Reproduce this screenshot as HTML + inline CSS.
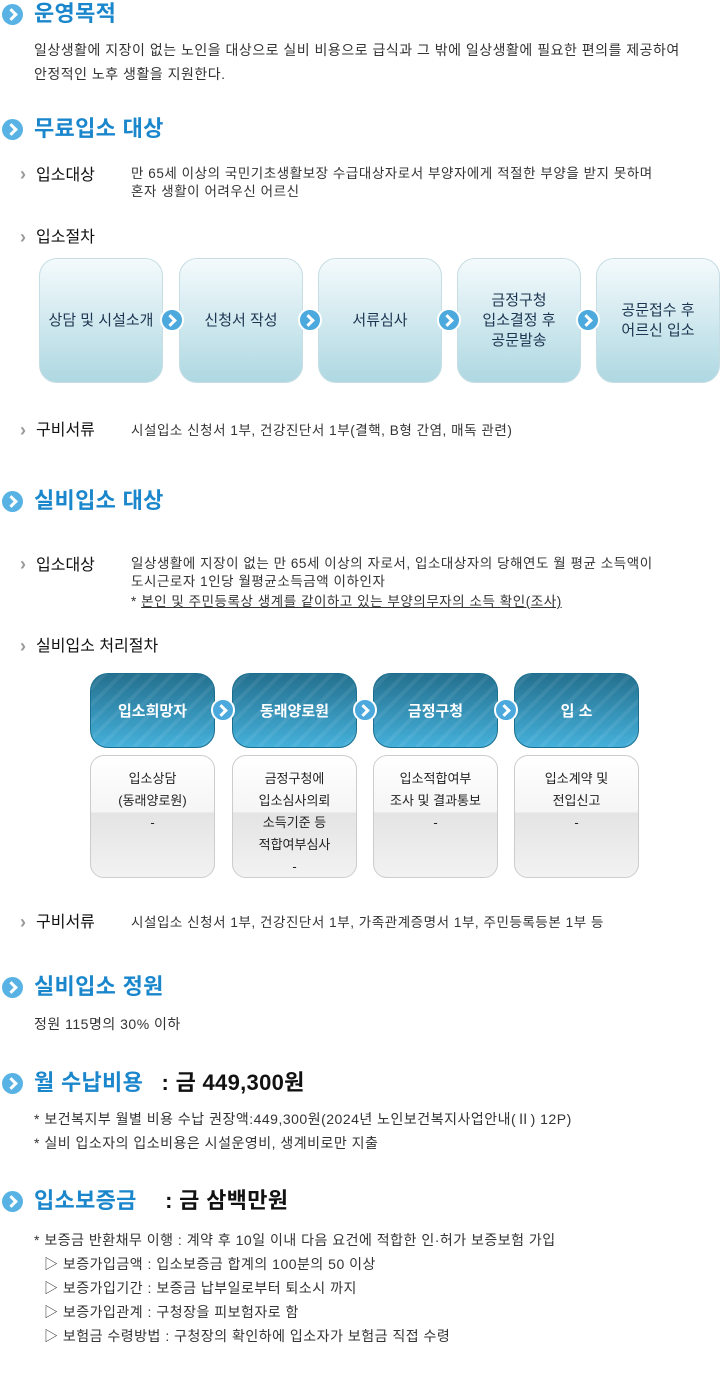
<!DOCTYPE html>
<html><head><meta charset="utf-8"><style>
*{margin:0;padding:0;box-sizing:border-box}
body{width:720px;height:1380px;background:#fff;font-family:"Liberation Sans","Noto Sans CJK KR",sans-serif;color:#333;position:relative;overflow:hidden}
.a{position:absolute;white-space:nowrap}
.h{font-size:22px;font-weight:bold;color:#1a86cc;line-height:28px;letter-spacing:0.3px}
.ic{position:absolute;width:21px;height:21px;border-radius:50%;background:#58b3e4}
.ic:after,.ar:after{content:"";position:absolute;left:5px;top:6px;width:6px;height:6px;border-right:3px solid #fff;border-top:3px solid #fff;transform:rotate(45deg)}
.ar{position:absolute;width:24px;height:24px;border-radius:50%;background:#4ba9dd;border:2px solid #fff;z-index:2}
.ar:after{left:4px;top:6px}
.t{font-size:14px;line-height:24px;color:#333;letter-spacing:0.5px}
.s{font-size:13.5px;line-height:18px;color:#333;letter-spacing:0.55px}
.lb{font-size:16px;color:#111;line-height:20px}
.gt{position:absolute;color:#999;font-size:18px;font-weight:bold}
.bx{position:absolute;top:258px;width:124px;height:125px;border-radius:18px;border:1px solid #c5dde3;background:linear-gradient(#f4fafc,#aed8e2);display:flex;align-items:center;justify-content:center;text-align:center;font-size:15px;color:#1c3550;line-height:20px}
.bb{position:absolute;top:673px;width:125px;height:75px;border-radius:18px;border:1px solid #1a6f8f;background:repeating-linear-gradient(135deg,rgba(255,255,255,0) 0 8px,rgba(255,255,255,.07) 8px 12px),linear-gradient(#24708f,#45b0da);display:flex;align-items:center;justify-content:center;color:#fff;font-size:15px;font-weight:bold}
.gb{position:absolute;top:755px;width:125px;height:123px;border-radius:14px;border:1px solid #ccc;background:linear-gradient(#fff 0,#f5f5f5 56px,#e4e4e4 57px,#f2f2f2 100%);text-align:center;font-size:13px;line-height:22px;color:#222;padding-top:12px}
</style></head><body>

<div class="ic" style="left:2px;top:4px"></div>
<div class="a h" style="left:34px;top:0">운영목적</div>
<div class="a t" style="left:34px;top:38px">일상생활에 지장이 없는 노인을 대상으로 실비 비용으로 급식과 그 밖에 일상생활에 필요한 편의를 제공하여</div>
<div class="a t" style="left:34px;top:62px">안정적인 노후 생활을 지원한다.</div>

<div class="ic" style="left:2px;top:119px"></div>
<div class="a h" style="left:34px;top:115px">무료입소 대상</div>

<div class="gt a" style="left:20px;top:164px">›</div>
<div class="a lb" style="left:36px;top:166px">입소대상</div>
<div class="a s" style="left:131px;top:165px">만 65세 이상의 국민기초생활보장 수급대상자로서 부양자에게 적절한 부양을 받지 못하며<br>혼자 생활이 어려우신 어르신</div>

<div class="gt a" style="left:20px;top:227px">›</div>
<div class="a lb" style="left:36px;top:228px">입소절차</div>

<div class="bx" style="left:39px">상담 및 시설소개</div>
<div class="bx" style="left:179px">신청서 작성</div>
<div class="bx" style="left:318px">서류심사</div>
<div class="bx" style="left:457px">금정구청<br>입소결정 후<br>공문발송</div>
<div class="bx" style="left:596px">공문접수 후<br>어르신 입소</div>
<div class="ar" style="left:160px;top:308px"></div>
<div class="ar" style="left:298px;top:308px"></div>
<div class="ar" style="left:437px;top:308px"></div>
<div class="ar" style="left:576px;top:308px"></div>

<div class="gt a" style="left:20px;top:420px">›</div>
<div class="a lb" style="left:36px;top:421px">구비서류</div>
<div class="a s" style="left:131px;top:422px">시설입소 신청서 1부, 건강진단서 1부(결핵, B형 간염, 매독 관련)</div>

<div class="ic" style="left:2px;top:491px"></div>
<div class="a h" style="left:34px;top:487px">실비입소 대상</div>

<div class="gt a" style="left:20px;top:554px">›</div>
<div class="a lb" style="left:36px;top:556px">입소대상</div>
<div class="a s" style="left:131px;top:555px">일상생활에 지장이 없는 만 65세 이상의 자로서, 입소대상자의 당해연도 월 평균 소득액이<br>도시근로자 1인당 월평균소득금액 이하인자</div>
<div class="a s" style="left:131px;top:593px">* <span style="text-decoration:underline">본인 및 주민등록상 생계를 같이하고 있는 부양의무자의 소득 확인(조사)</span></div>

<div class="gt a" style="left:20px;top:636px">›</div>
<div class="a lb" style="left:36px;top:637px">실비입소 처리절차</div>

<div class="bb" style="left:90px">입소희망자</div>
<div class="bb" style="left:232px">동래양로원</div>
<div class="bb" style="left:373px">금정구청</div>
<div class="bb" style="left:514px">입 소</div>
<div class="ar" style="left:211px;top:698px"></div>
<div class="ar" style="left:353px;top:698px"></div>
<div class="ar" style="left:494px;top:698px"></div>

<div class="gb" style="left:90px">입소상담<br>(동래양로원)<br>-</div>
<div class="gb" style="left:232px">금정구청에<br>입소심사의뢰<br>소득기준 등<br>적합여부심사<br>-</div>
<div class="gb" style="left:373px">입소적합여부<br>조사 및 결과통보<br>-</div>
<div class="gb" style="left:514px">입소계약 및<br>전입신고<br>-</div>

<div class="gt a" style="left:20px;top:912px">›</div>
<div class="a lb" style="left:36px;top:913px">구비서류</div>
<div class="a s" style="left:131px;top:914px">시설입소 신청서 1부, 건강진단서 1부, 가족관계증명서 1부, 주민등록등본 1부 등</div>

<div class="ic" style="left:2px;top:977px"></div>
<div class="a h" style="left:34px;top:973px">실비입소 정원</div>
<div class="a t" style="left:34px;top:1012px">정원 115명의 30% 이하</div>

<div class="ic" style="left:2px;top:1073px"></div>
<div class="a h" style="left:34px;top:1069px">월 수납비용 <span style="color:#111;margin-left:12px">: 금 449,300원</span></div>
<div class="a t" style="left:34px;top:1107px">* 보건복지부 월별 비용 수납 권장액:449,300원(2024년 노인보건복지사업안내(Ⅱ) 12P)</div>
<div class="a t" style="left:34px;top:1131px">* 실비 입소자의 입소비용은 시설운영비, 생계비로만 지출</div>

<div class="ic" style="left:2px;top:1191px"></div>
<div class="a h" style="left:34px;top:1187px">입소보증금 <span style="color:#111;margin-left:22px">: 금 삼백만원</span></div>
<div class="a t" style="left:34px;top:1228px">* 보증금 반환채무 이행 : 계약 후 10일 이내 다음 요건에 적합한 인·허가 보증보험 가입</div>
<div class="a t" style="left:44px;top:1252px">▷ 보증가입금액 : 입소보증금 합계의 100분의 50 이상</div>
<div class="a t" style="left:44px;top:1276px">▷ 보증가입기간 : 보증금 납부일로부터 퇴소시 까지</div>
<div class="a t" style="left:44px;top:1300px">▷ 보증가입관계 : 구청장을 피보험자로 함</div>
<div class="a t" style="left:44px;top:1324px">▷ 보험금 수령방법 : 구청장의 확인하에 입소자가 보험금 직접 수령</div>
</body></html>
